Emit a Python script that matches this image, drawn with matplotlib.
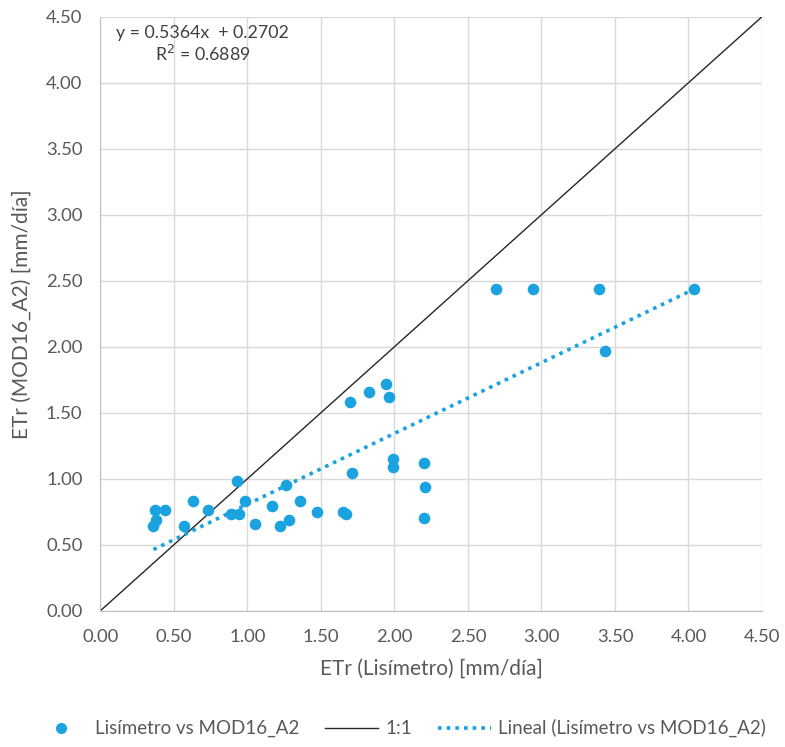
import matplotlib
matplotlib.use("Agg")
import matplotlib.pyplot as plt
import numpy as np
from matplotlib.lines import Line2D

plt.rcParams['font.family'] = ['Lato', 'DejaVu Sans']

lis = [0.37, 0.44, 0.38, 0.36, 0.63, 0.57, 0.73, 0.93, 0.89, 0.94, 0.98, 1.05,
       1.17, 1.26, 1.22, 1.28, 1.36, 1.47, 1.65, 1.67, 1.71, 1.99, 1.99, 2.20,
       2.21, 2.20, 1.70, 1.83, 1.94, 1.96, 2.69, 2.94, 3.39, 4.04, 3.43]
mod = [0.76, 0.76, 0.69, 0.64, 0.83, 0.64, 0.76, 0.98, 0.73, 0.73, 0.83, 0.66,
       0.79, 0.95, 0.64, 0.69, 0.83, 0.75, 0.75, 0.73, 1.04, 1.15, 1.09, 1.12,
       0.94, 0.70, 1.58, 1.66, 1.72, 1.62, 2.44, 2.44, 2.44, 2.44, 1.97]
slope, intercept, r2 = 0.5364, 0.2702, 0.6889
ticks = [0.0, 0.5, 1.0, 1.5, 2.0, 2.5, 3.0, 3.5, 4.0, 4.5]

blue = '#1BA3E0'
gray_text = '#595959'

fig = plt.figure(figsize=(7.85, 7.47), dpi=100)
ax = fig.add_axes([0.128, 0.1825, 0.8427, 0.7951])

ax.scatter(lis, mod, s=70, color=blue, zorder=3, linewidths=0)
ax.plot([0, 4.5], [0, 4.5], color='#262626', lw=1.0, zorder=2)
xt = np.array([min(lis), max(lis)])
ax.plot(xt, slope * xt + intercept, color=blue, lw=2.6, ls=(0, (1, 1.4)), zorder=2)

ax.set_xlim(0, 4.5)
ax.set_ylim(0, 4.5)
ax.set_xticks(ticks)
ax.set_yticks(ticks)
ax.set_xticklabels([f'{t:.2f}' for t in ticks])
ax.set_yticklabels([f'{t:.2f}' for t in ticks])
ax.grid(True, color='#d9d9d9', lw=1.0, zorder=0)
ax.set_axisbelow(True)
for s in ['top', 'right']:
    ax.spines[s].set_visible(False)
for s in ['left', 'bottom']:
    ax.spines[s].set_color('#bfbfbf')
ax.tick_params(length=0, colors=gray_text, labelsize=13.3, pad=13)
ax.set_xlabel('ETr (Lisímetro) [mm/día]', color=gray_text, fontsize=15, labelpad=10)
ax.set_ylabel('ETr (MOD16_A2) [mm/día]', color=gray_text, fontsize=15, labelpad=10)

ax.text(0.105, 4.375, f'y = {slope}x  + {intercept}', fontsize=12.8, color='#404040',
        va='center', ha='left')
ax.text(0.37, 4.22, f'R$^2$ = {r2}', fontsize=12.8, color='#404040',
        va='center', ha='left')

handles = [Line2D([], [], ls='none', marker='o', color=blue, ms=7),
           Line2D([], [], color='#262626', lw=1.0),
           Line2D([], [], color=blue, lw=2.6, ls=(0, (1, 1.4)))]
labels = ['Lisímetro vs MOD16_A2', '1:1', 'Lineal (Lisímetro vs MOD16_A2)']
leg = fig.legend(handles, labels, loc='center', bbox_to_anchor=(0.51, 0.025), ncol=3,
                 frameon=False, fontsize=13.5, handlelength=2.8, columnspacing=1.4,
                 handletextpad=0.4)
for t in leg.get_texts():
    t.set_color(gray_text)

fig.savefig('out.png', dpi=100)
